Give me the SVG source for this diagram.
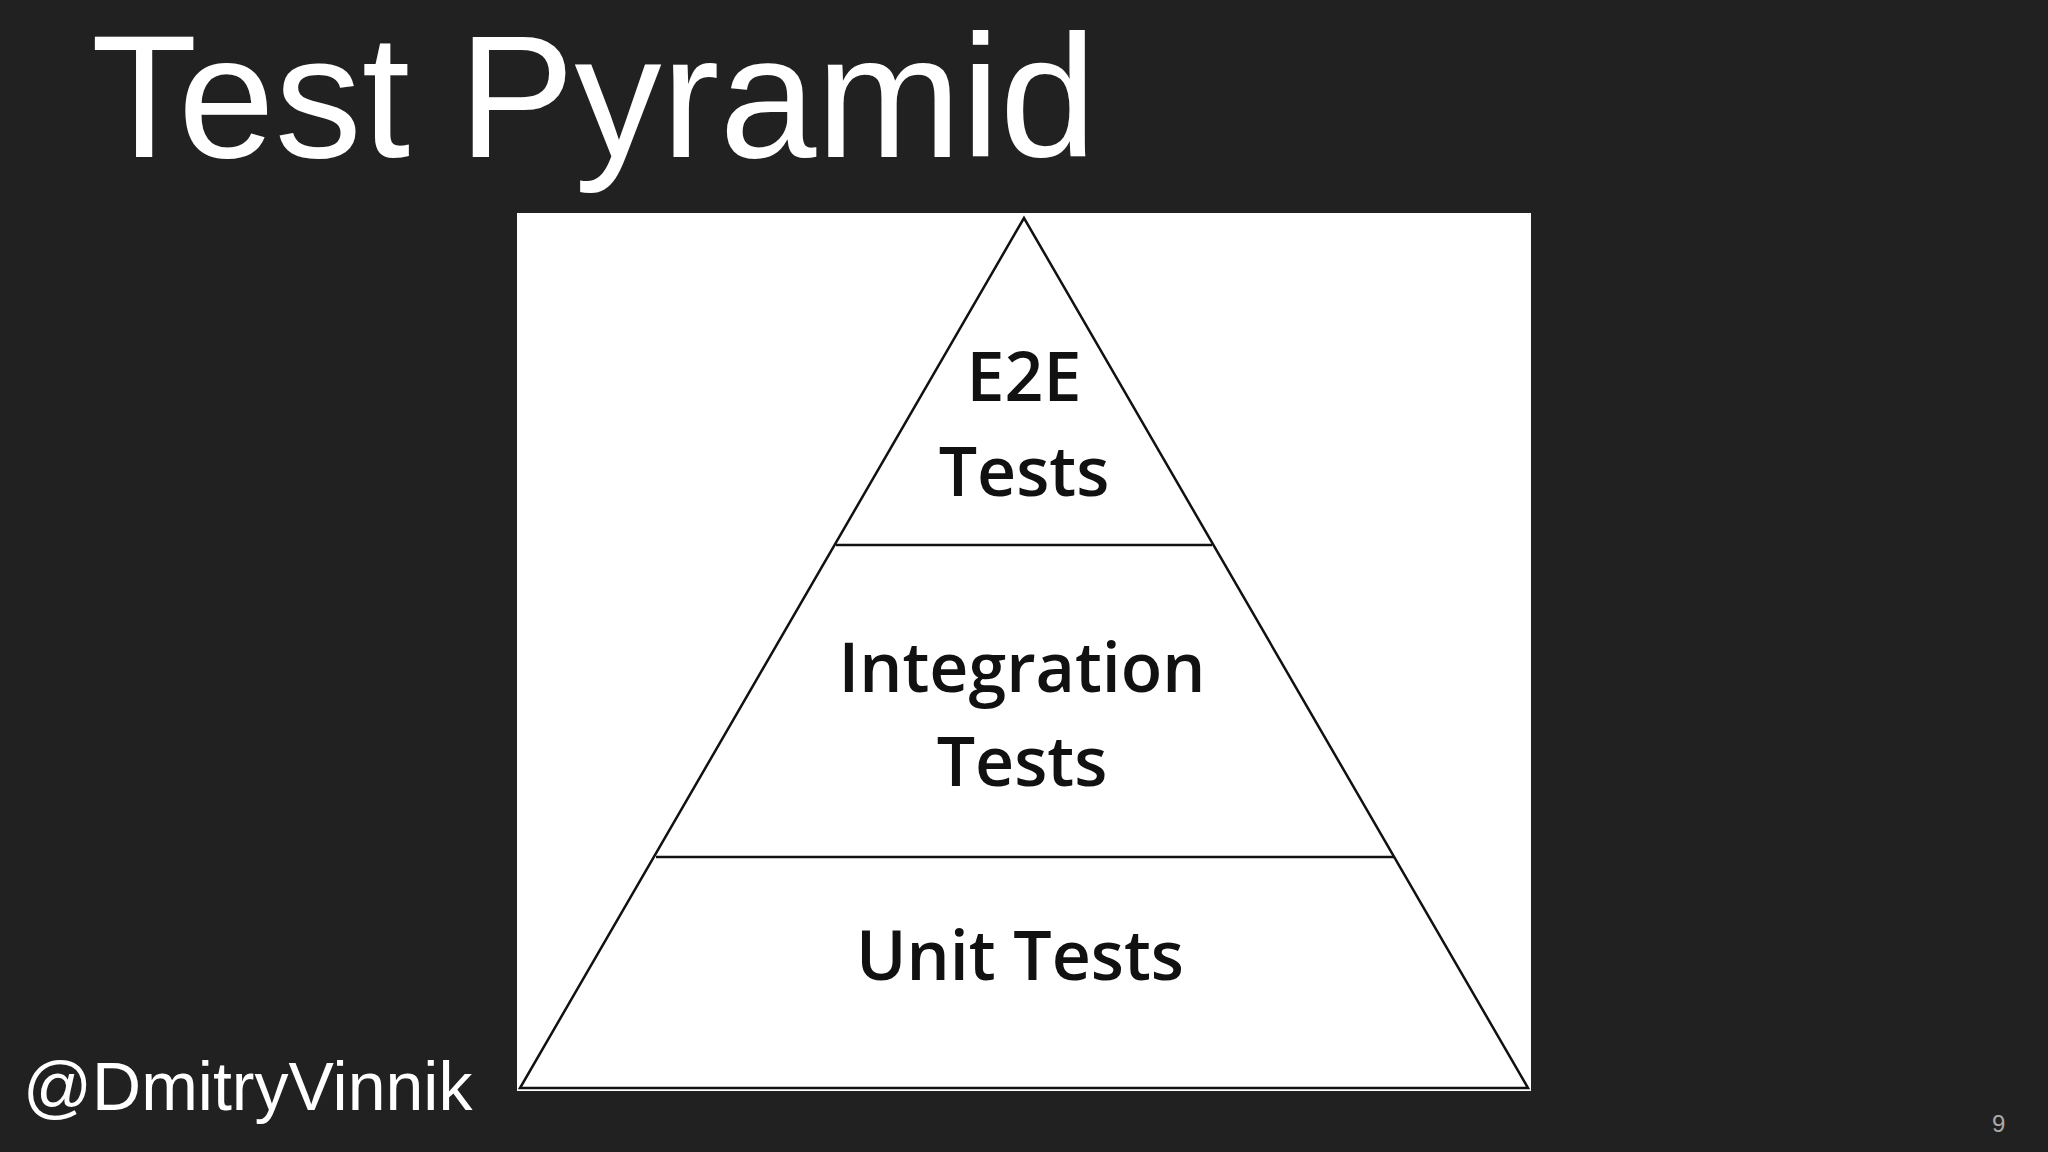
<svg xmlns="http://www.w3.org/2000/svg" width="2048" height="1152" viewBox="0 0 2048 1152">
<style>
.t{font-family:"Open Sans","Liberation Sans",sans-serif;font-size:68px;font-weight:600;fill:#111;text-anchor:middle}
.l{stroke:#111;stroke-width:2.5;fill:none}
</style>
<rect width="2048" height="1152" fill="#212121"/>
<text x="91" y="157" font-family="Liberation Sans, Arial, sans-serif" font-size="174" fill="#fff">Test Pyramid</text>
<rect x="517" y="213" width="1014" height="878" fill="#fff"/>
<g id="pyramid">
<polygon class="l" points="1024,218 520,1088 1528,1088"/>
</g>
<g id="connectors">
<line class="l" x1="836" y1="545" x2="1212" y2="545"/>
<line class="l" x1="656" y1="857" x2="1394" y2="857"/>
</g>
<g id="e2e"><text class="t" x="1024" y="401">E2E</text><text class="t" x="1024" y="496">Tests</text></g>
<g id="integration"><text class="t" x="1022" y="692">Integration</text><text class="t" x="1022" y="786">Tests</text></g>
<g id="unit"><text class="t" x="1020" y="980">Unit Tests</text></g>
<text x="23" y="1110" font-family="Liberation Sans, Arial, sans-serif" font-size="68" fill="#fff">@DmitryVinnik</text>
<text x="1992" y="1132" font-family="Liberation Sans, Arial, sans-serif" font-size="24" fill="#aaa">9</text>
</svg>
